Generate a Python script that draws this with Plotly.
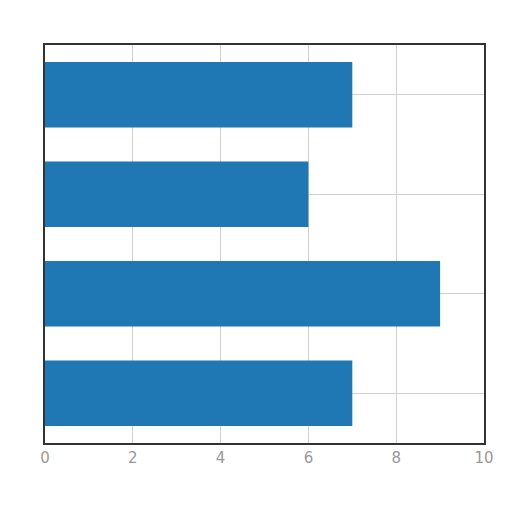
import plotly.graph_objs as go

# bar values, top to bottom
categories = ['A', 'B', 'C', 'D']
values = [7, 6, 9, 7]
x_ticks = [0, 2, 4, 6, 8, 10]

fig = go.Figure()
fig.add_trace(go.Bar(x=values, y=categories, orientation='h', width=0.66,
                     marker=dict(color='#1f77b4', line=dict(width=0))))

fig.update_layout(width=512, height=512, showlegend=False,
                  margin=dict(l=37, r=36, t=37, b=77),
                  paper_bgcolor='white', plot_bgcolor='white',
                  font=dict(family='DejaVu Sans', size=15, color='#999999'))
fig.update_xaxes(range=[0, 10], tickvals=x_ticks, showgrid=True, gridcolor='#d0d0d0',
                 zeroline=False, showline=True, linecolor='#333333', linewidth=2,
                 mirror=True, ticks='', ticklen=0)
fig.update_yaxes(autorange='reversed', showticklabels=False, showgrid=True,
                 gridcolor='#d0d0d0', zeroline=False, showline=True, linecolor='#333333',
                 linewidth=2, mirror=True, ticks='')

fig.write_html("out.html")
